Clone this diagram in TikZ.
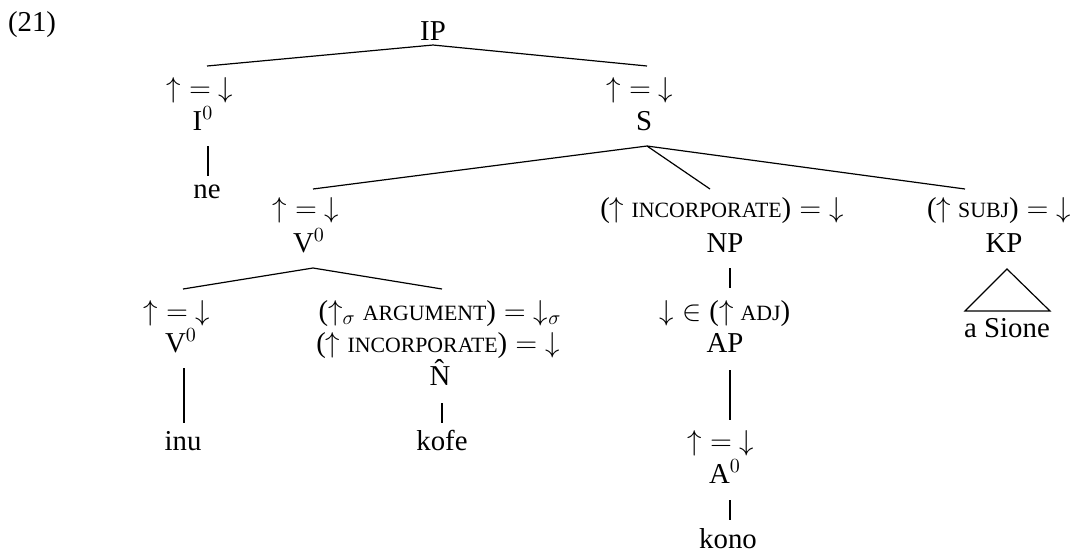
\documentclass[tikz,border=0pt]{standalone}
\usepackage{fontspec}
\setmainfont{Liberation Serif}
\usetikzlibrary{calc}
\newcommand\smcap[1]{{\fontsize{10.9}{12}\selectfont #1}}
\newcommand\ueqd{$\mathord\uparrow = \mathord\downarrow$}
\begin{document}
\begin{tikzpicture}[x=0.5pt,y=-0.5pt,
  lbl/.style={anchor=base,inner sep=0pt,outer sep=0pt,font=\fontsize{14.4}{17}\selectfont},
  edge/.style={line width=0.6pt}]
\useasboundingbox (0,0) rectangle (1070,554);
\node[lbl] (ex) at (32,31) {(21)};
% top
\node[lbl] (IP) at (433,40) {IP};
\node[lbl] (Iann) at (200,97) {\ueqd};
\node[lbl] (I0) at (203,130) {I$^0$};
\node[lbl] (ne) at (207,198) {ne};
\node[lbl] (Sann) at (640,97) {\ueqd};
\node[lbl] (S) at (644,130) {S};
% V0 branch
\node[lbl] (Vann) at (306,217) {\ueqd};
\node[lbl] (V0) at (309,252) {V$^0$};
\node[lbl] (Vbann) at (177,320) {\ueqd};
\node[lbl] (Vb) at (181,352) {V$^0$};
\node[lbl] (inu) at (183,450) {inu};
\node[lbl] (Nann1) at (440,320) {($\uparrow_\sigma$ \smcap{ARGUMENT})${}=\mathord\downarrow_\sigma$};
\node[lbl] (Nann2) at (438,352) {($\uparrow$ \smcap{INCORPORATE})${}=\mathord\downarrow$};
\node[lbl] (Nhat) at (440,385) {\^{N}};
\node[lbl] (kofe) at (442,450) {kofe};
% NP branch
\node[lbl] (NPann) at (722,217) {($\uparrow$ \smcap{INCORPORATE})${}=\mathord\downarrow$};
\node[lbl] (NP) at (725,252) {NP};
\node[lbl] (APann) at (725,320) {$\mathord\downarrow\in{}$($\uparrow$ \smcap{ADJ})};
\node[lbl] (AP) at (725,352) {AP};
\node[lbl] (Aann) at (721,450) {\ueqd};
\node[lbl] (A0) at (725,483) {A$^0$};
\node[lbl] (kono) at (728,548) {kono};
% KP branch
\node[lbl] (KPann) at (999,217) {($\uparrow$ \smcap{SUBJ})${}=\mathord\downarrow$};
\node[lbl] (KP) at (1004,252) {KP};
\node[lbl] (sione) at (1007,337) {a Sione};
% connectors
\draw[edge] ($(Iann.base)+(7,-31)$) -- ($(IP.base)+(0,5)$) -- ($(Sann.base)+(7,-31)$);
\draw[edge] ($(I0.base)+(5,16)$) -- ($(ne.base)+(1,-22)$);
\draw[edge] ($(S.base)+(3,16)$) -- ($(Vann.base)+(7,-28)$);
\draw[edge] ($(S.base)+(3,16)$) -- ($(NPann.base)+(-12,-28)$);
\draw[edge] ($(S.base)+(3,16)$) -- ($(KPann.base)+(-34,-28)$);
\draw[edge] ($(Vbann.base)+(6,-31)$) -- ($(V0.base)+(4,16)$) -- ($(Nann1.base)+(2,-31)$);
\draw[edge] ($(Vb.base)+(3,16)$) -- ($(inu.base)+(1,-27)$);
\draw[edge] ($(Nhat.base)+(2,18)$) -- ($(kofe.base)+(0,-27)$);
\draw[edge] ($(NP.base)+(5,16)$) -- ($(APann.base)+(5,-32)$);
\draw[edge] ($(AP.base)+(5,18)$) -- ($(Aann.base)+(9,-30)$);
\draw[edge] ($(A0.base)+(5,17)$) -- ($(kono.base)+(2,-28)$);
\draw[edge] ($(KP.base)+(3,17)$) -- ($(sione.base)+(43,-26)$) -- ($(sione.base)+(-42,-26)$) -- cycle;
\end{tikzpicture}
\end{document}
